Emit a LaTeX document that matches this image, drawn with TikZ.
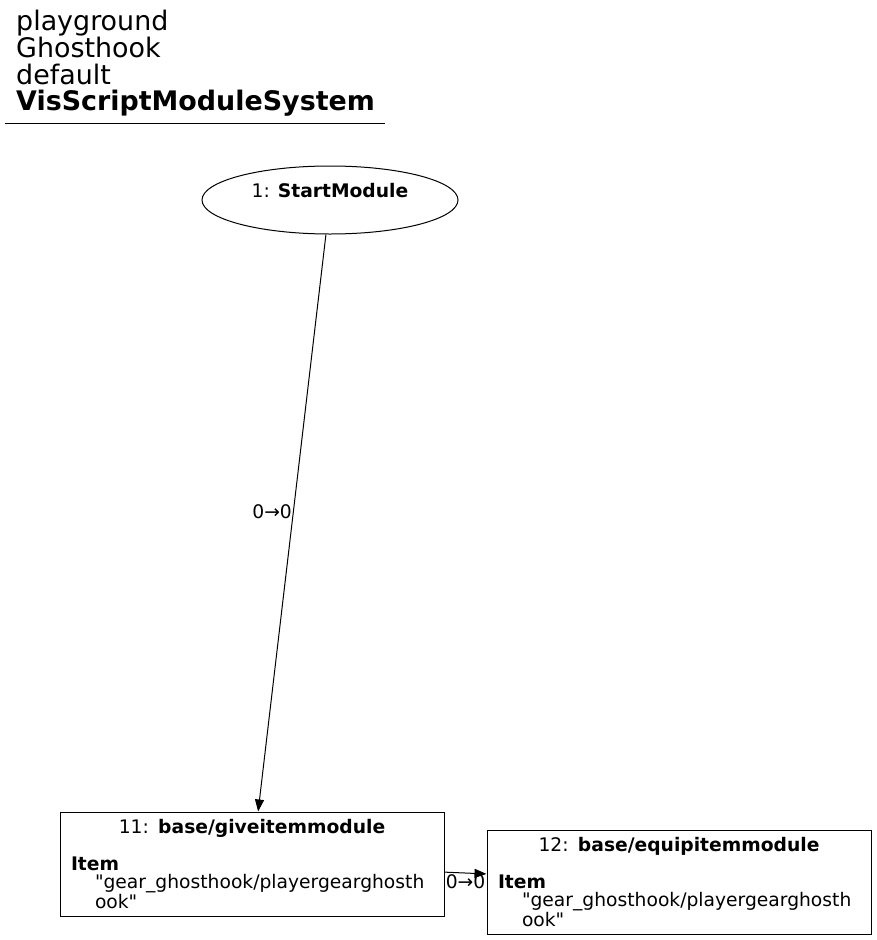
\documentclass[tikz,border=0pt]{standalone}
\usepackage{fontspec}
\setmainfont{DejaVu Sans}[Ligatures=TeXOff]
\usepackage{tikz}
\usetikzlibrary{shapes.geometric, arrows.meta}
\definecolor{mydark}{RGB}{0,0,0}
\tikzset{
  modbox/.style={rectangle, draw=mydark, text width=362pt, align=left,
    minimum width=384pt, minimum height=104pt, inner xsep=11pt, inner ysep=2pt,
    font=\fontsize{18.7}{18.5}\selectfont, line width=1pt},
  startnode/.style={ellipse, draw=mydark, minimum width=256pt, minimum height=68pt,
    align=center, inner sep=0pt, font=\fontsize{18.7}{18.5}\selectfont, line width=1pt},
  titletext/.style={anchor=base west, inner sep=0pt, font=\fontsize{26.9}{27}\selectfont},
  arrow/.style={-{Triangle[length=12pt, width=9pt]}, line width=1pt, color=mydark},
  edgelabel/.style={inner sep=1pt, font=\fontsize{18.7}{18.5}\selectfont}
}
\begin{document}
\begin{tikzpicture}[x=1pt, y=-1pt]
  \useasboundingbox (0,0) rectangle (876,940);

  % header
  \node[titletext] (t1) at (16,30) {playground};
  \node[titletext] (t2) at (16,57) {Ghosthook};
  \node[titletext] (t3) at (16,84) {default};
  \node[titletext] (t4) at (16,110) {\textbf{VisScriptModuleSystem}};
  \draw[line width=1pt] (5,123) -- (385,123);

  % modules
  \node[startnode] (start) at (330,200) {1: \textbf{StartModule}\\\mbox{}};
  \node[modbox] (give) at (252,864) {%
    \makebox[\linewidth][c]{11: \textbf{base/giveitemmodule}}\\[18.5pt]
    \textbf{Item}\\
    \hspace*{24pt}"gear\_ghosthook/playergearghosth\\
    \hspace*{24pt}ook"};
  \node[modbox] (equip) at (679,882) {%
    \makebox[\linewidth][c]{12: \textbf{base/equipitemmodule}}\\[18.5pt]
    \textbf{Item}\\
    \hspace*{24pt}"gear\_ghosthook/playergearghosth\\
    \hspace*{24pt}ook"};

  % links
  \draw[arrow] (start) -- (give) node[edgelabel, pos=0.48, anchor=east] {0→0};
  \draw[arrow] (give) -- (equip) node[edgelabel, midway, anchor=north] {0→0};
\end{tikzpicture}
\end{document}
